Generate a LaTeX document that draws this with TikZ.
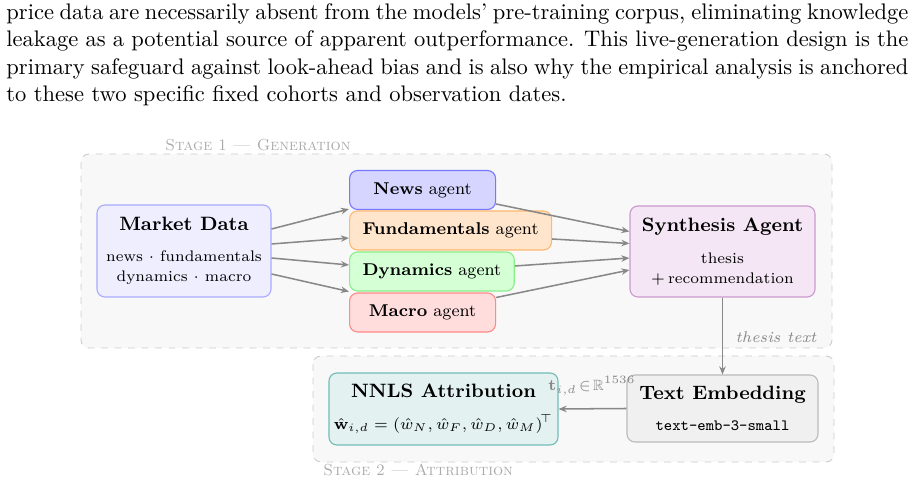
\documentclass[tikz,border=0pt]{standalone}
\usepackage{amsmath,amssymb}
\usetikzlibrary{arrows.meta,calc}
\definecolor{arr}{HTML}{888888}
\definecolor{stagefill}{HTML}{F8F8F8}
\definecolor{stagedraw}{HTML}{CCCCCC}
\definecolor{stagetext}{HTML}{AAAAAA}
\definecolor{mdfill}{HTML}{EEEEFF}
\definecolor{mddraw}{HTML}{AAAAFF}
\definecolor{nwfill}{HTML}{D5D5FF}
\definecolor{nwdraw}{HTML}{7777FF}
\definecolor{fdfill}{HTML}{FFE5CC}
\definecolor{fddraw}{HTML}{FFB870}
\definecolor{dyfill}{HTML}{D5FFD5}
\definecolor{dydraw}{HTML}{88EE88}
\definecolor{mcfill}{HTML}{FFDDDD}
\definecolor{mcdraw}{HTML}{FF8888}
\definecolor{syfill}{HTML}{F4E6F4}
\definecolor{sydraw}{HTML}{CC99CC}
\definecolor{nnfill}{HTML}{E3F2F1}
\definecolor{nndraw}{HTML}{70BDB7}
\definecolor{tefill}{HTML}{F0F0F0}
\definecolor{tedraw}{HTML}{BBBBBB}
\newcommand\titlef{\fontsize{8.6}{10.5}\selectfont\bfseries}
\newcommand\bodyf{\fontsize{6.8}{8.9}\selectfont}
\newcommand\agentf{\fontsize{7.6}{9}\selectfont}
\tikzset{
  stagebox/.style={draw=stagedraw, fill=stagefill, dashed, rounded corners=3.56pt, line width=0.4pt},
  stagelbl/.style={text=stagetext, font=\fontsize{7.1}{8.7}\selectfont, inner sep=0pt},
  bigbox/.style={rounded corners=3.56pt, line width=0.49pt, align=center, inner sep=0pt, font=\bodyf},
  agentbox/.style={rounded corners=3.56pt, line width=0.49pt, minimum width=64.89pt, minimum height=17.33pt, inner xsep=5.78pt, inner ysep=0pt, font=\agentf, anchor=west},
  flow/.style={draw=arr, line width=0.68pt, -{Stealth[length=3.6pt, width=2.9pt]}},
}
\begin{document}
\begin{tikzpicture}[x=0.4444pt, y=-0.4444pt]
\useasboundingbox (0,0) rectangle (914,484);
% paragraph
\node[anchor=north west, inner sep=0pt, text width=400.85pt, align=justify, font=\fontsize{10}{12.2}\selectfont] (para) at (6,3)
{price data are necessarily absent from the models' pre-training corpus, eliminating knowledge leakage as a potential source of apparent outperformance.  This live-generation design is the primary safeguard against look-ahead bias and is also why the empirical analysis is anchored to these two specific fixed cohorts and observation dates.};
% stage containers
\draw[stagebox] (81,154) rectangle (832,348);
\draw[stagebox] (313,356) rectangle (834,462);
\node[stagelbl, anchor=base west] (s1) at (165,150.5) {\textsc{Stage 1 --- Generation}};
\node[stagelbl, anchor=base west] (s2) at (323,475.5) {\textsc{Stage 2 --- Attribution}};
% nodes
\node[bigbox, draw=mddraw, fill=mdfill, minimum width=77.33pt, minimum height=40.89pt] (market) at (184,251)
{{\titlef Market Data}\\[5pt]news $\cdot$ fundamentals\\ dynamics $\cdot$ macro};
\node[agentbox, draw=nwdraw, fill=nwfill] (news) at (349,190) {\textbf{News} agent};
\node[agentbox, draw=fddraw, fill=fdfill] (fund) at (349,230.5) {\textbf{Fundamentals} agent};
\node[agentbox, draw=dydraw, fill=dyfill] (dyn) at (349,271.5) {\textbf{Dynamics} agent};
\node[agentbox, draw=mcdraw, fill=mcfill] (macro) at (349,312.5) {\textbf{Macro} agent};
\node[bigbox, draw=sydraw, fill=syfill, minimum width=82.22pt, minimum height=40.44pt] (synth) at (722.5,251.5)
{{\titlef Synthesis Agent}\\[5.6pt]thesis\\ $+\,$recommendation};
\node[bigbox, draw=tedraw, fill=tefill, minimum width=84.89pt, minimum height=29.78pt] (embed) at (722.5,408.5)
{{\titlef Text Embedding}\\[4.6pt]{\fontsize{7}{8}\selectfont\ttfamily text-emb-3-small}};
\node[bigbox, draw=nndraw, fill=nnfill, minimum width=101.78pt, minimum height=32pt] (nnls) at (443.5,409)
{{\titlef NNLS Attribution}\\[5.2pt]{\fontsize{6.9}{8.5}\selectfont$\hat{\mathbf{w}}_{i,d} = (\hat w_N, \hat w_F, \hat w_D, \hat w_M)^{\!\top}$}};
% arrows market -> agents
\draw[flow] ($(market.east)+(0,-22)$) -- ($(news.south west)+(0,-1)$);
\draw[flow] ($(market.east)+(0,-7)$) -- ($(fund.west)+(0,7.5)$);
\draw[flow] ($(market.east)+(0,7)$) -- ($(dyn.west)+(0,-6.5)$);
\draw[flow] ($(market.east)+(0,23)$) -- ($(dyn.south west)+(0,0)$);
% agents -> synth
\draw[flow] ($(news.east)+(0,14)$) -- ($(synth.west)+(0,-20)$);
\draw[flow] ($(fund.east)+(0,8.5)$) -- ($(synth.west)+(0,-8)$);
\draw[flow] ($(dyn.east)+(0,-5.5)$) -- ($(synth.west)+(0,6.5)$);
\draw[flow] ($(macro.east)+(0,-15)$) -- ($(synth.west)+(0,18.5)$);
% synth -> embed
\draw[flow] (synth.south) -- node[pos=0.52, right, xshift=2.2pt, text=arr, font=\fontsize{6.9}{8.5}\selectfont\itshape] (tlbl) {thesis text} (embed.north);
% embed -> nnls
\draw[flow] (embed.west) -- (nnls.east);
\node[text=arr, font=\fontsize{6.6}{8}\selectfont, inner sep=0pt] (elbl) at (592,386) {$\mathbf{t}_{i,d}\!\in\!\mathbb{R}^{1536}$};
\end{tikzpicture}
\end{document}
